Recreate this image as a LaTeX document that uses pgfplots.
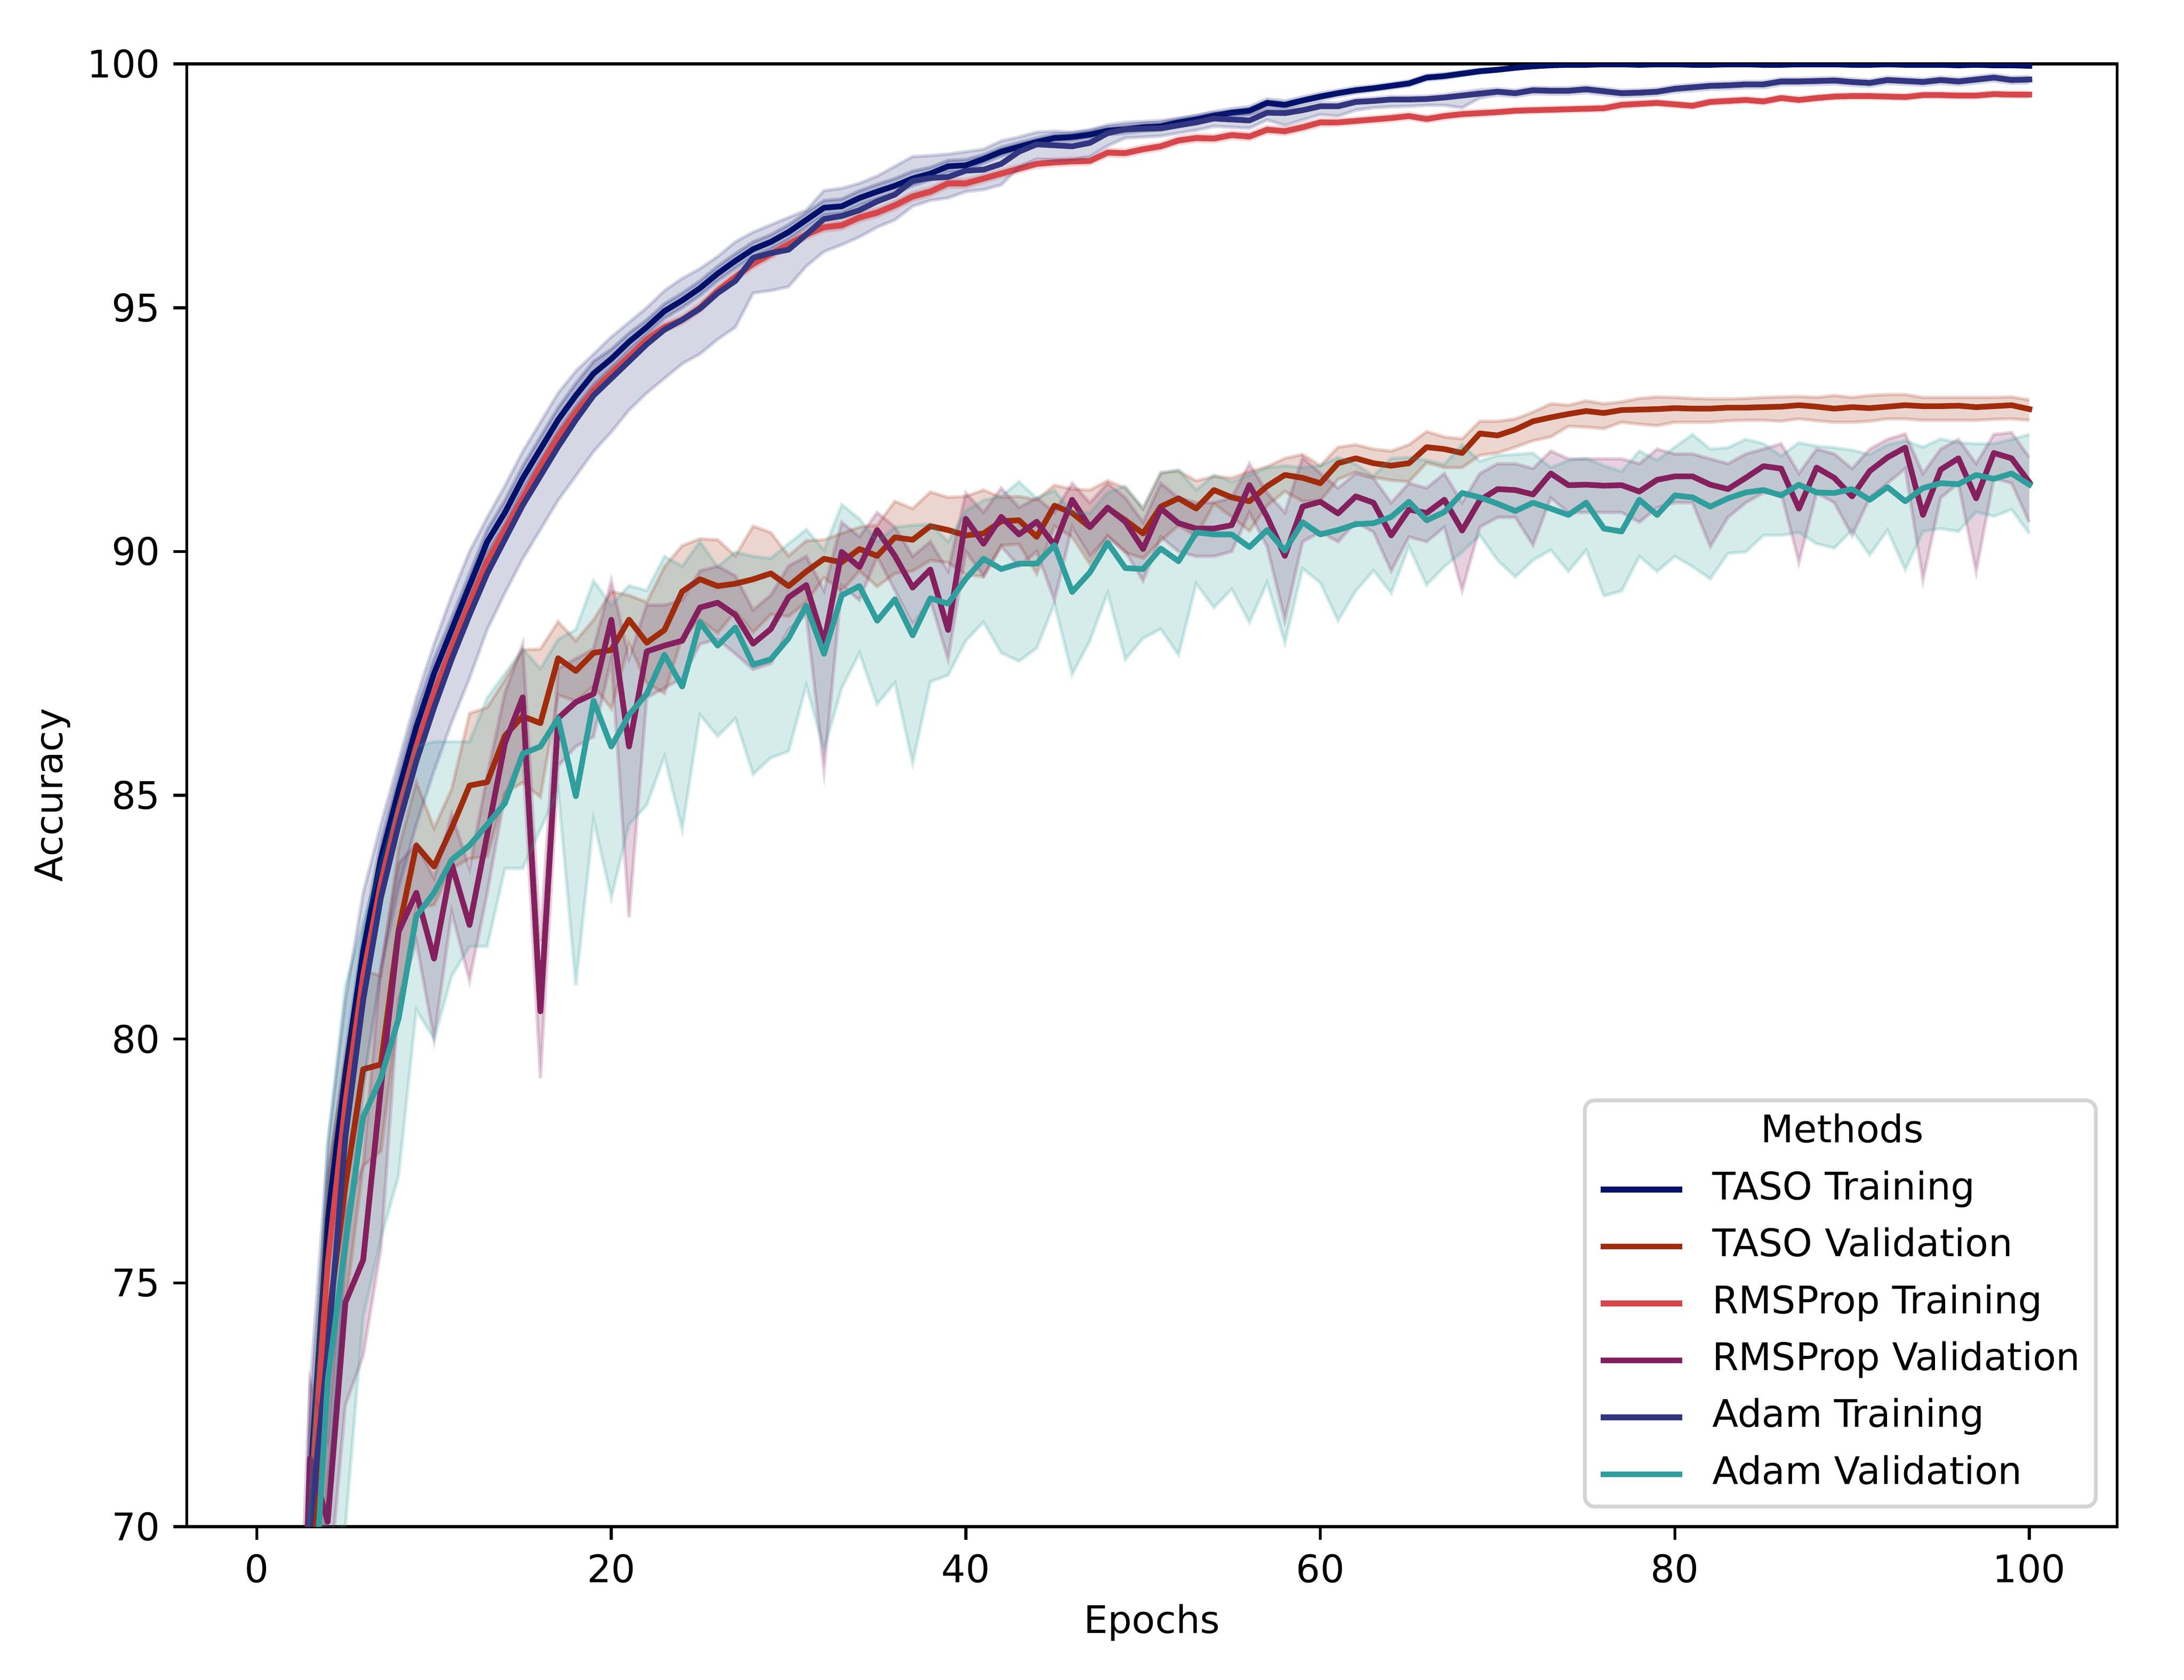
\documentclass[border=0pt]{standalone}
\usepackage{fontspec}
\setmainfont{DejaVu Sans}
\usepackage{pgfplots}
\pgfplotsset{compat=1.18}
\usepackage{pgfplotstable}
\usepgfplotslibrary{fillbetween}

\definecolor{cTT}{RGB}{0,17,106}
\definecolor{cTV}{RGB}{160,44,12}
\definecolor{cRT}{RGB}{214,70,74}
\definecolor{cRV}{RGB}{132,32,94}
\definecolor{cAT}{RGB}{50,53,127}
\definecolor{cAV}{RGB}{47,158,156}

% TASO Training
\pgfplotstableread{
e m lo hi
1 45.0 43.5 46.5
2 58.0 56.5 59.5
3 70.8 69.6 72.0
4 76.3 75.5 77.1
5 79.3 78.9 79.7
6 81.8 81.45 82.15
7 83.7 83.35 84.05
8 85.1 84.75 85.45
9 86.4 86.05 86.75
10 87.5 87.2 87.8
11 88.4 88.15 88.65
12 89.3 89.05 89.55
13 90.2 89.95 90.45
14 90.8 90.55 91.05
15 91.5 91.25 91.75
16 92.1 91.85 92.35
17 92.7 92.45 92.95
18 93.2 92.95 93.45
19 93.65 93.4 93.9
20 93.95 93.75 94.15
21 94.3 94.12 94.48
22 94.6 94.45 94.75
23 94.93 94.78 95.08
24 95.15 95.0 95.3
25 95.4 95.25 95.55
26 95.7 95.55 95.85
27 95.96 95.81 96.11
28 96.2 96.05 96.35
29 96.35 96.2 96.5
30 96.55 96.4 96.7
31 96.8 96.65 96.95
32 97.05 96.9 97.2
33 97.08 96.93 97.23
34 97.25 97.1 97.4
35 97.38 97.23 97.53
36 97.5 97.35 97.65
37 97.65 97.5 97.8
38 97.75 97.62 97.88
39 97.9 97.78 98.02
40 97.92 97.8 98.04
41 98.05 97.96 98.14
42 98.2 98.11 98.29
43 98.3 98.21 98.39
44 98.4 98.32 98.48
45 98.48 98.4 98.56
46 98.5 98.42 98.58
47 98.55 98.47 98.63
48 98.63 98.55 98.71
49 98.66 98.58 98.74
50 98.7 98.62 98.78
51 98.72 98.64 98.8
52 98.8 98.72 98.88
53 98.86 98.78 98.94
54 98.94 98.86 99.02
55 99.0 98.92 99.08
56 99.04 98.96 99.12
57 99.2 99.12 99.28
58 99.16 99.08 99.24
59 99.25 99.18 99.32
60 99.33 99.26 99.4
61 99.4 99.34 99.46
62 99.46 99.4 99.52
63 99.5 99.45 99.55
64 99.55 99.5 99.6
65 99.6 99.55 99.65
66 99.72 99.67 99.77
67 99.75 99.7 99.8
68 99.8 99.76 99.84
69 99.85 99.81 99.89
70 99.88 99.85 99.91
71 99.92 99.89 99.95
72 99.95 99.93 99.97
73 99.97 99.95 99.99
74 99.98 99.96 100.0
75 99.98 99.96 100.0
76 99.99 99.97 100.01
77 99.99 99.97 100.01
78 99.98 99.96 100.0
79 99.99 99.97 100.01
80 99.99 99.97 100.01
81 99.98 99.96 100.0
82 99.98 99.96 100.0
83 99.99 99.97 100.01
84 99.99 99.97 100.01
85 99.98 99.96 100.0
86 99.98 99.96 100.0
87 99.99 99.97 100.01
88 99.99 99.97 100.01
89 99.99 99.97 100.01
90 99.98 99.96 100.0
91 99.98 99.96 100.0
92 99.99 99.97 100.01
93 99.98 99.96 100.0
94 99.98 99.96 100.0
95 99.98 99.96 100.0
96 99.97 99.95 99.99
97 99.98 99.96 100.0
98 99.97 99.95 99.99
99 99.97 99.95 99.99
100 99.96 99.94 99.98
}\TT

% TASO Validation
\pgfplotstableread{
e m lo hi
1 50.0 47.0 53.0
2 60.0 57.0 63.0
3 68.0 65.0 71.0
4 74.1 70.9 77.3
5 77.0 74.5 79.5
6 79.38 77.4 81.4
7 79.48 77.7 81.3
8 82.23 80.6 83.9
9 83.97 82.7 85.27
10 83.54 82.75 84.33
11 84.33 83.5 85.13
12 85.2 83.7 86.68
13 85.27 83.75 86.8
14 86.22 85.05 87.37
15 86.62 85.26 87.98
16 86.48 84.96 88.0
17 87.81 87.06 88.56
18 87.55 86.93 88.17
19 87.92 87.24 88.6
20 87.98 86.78 89.18
21 88.6 88.1 89.1
22 88.13 87.3 88.96
23 88.39 87.09 89.69
24 89.18 88.24 90.12
25 89.43 88.6 90.26
26 89.29 88.33 90.24
27 89.34 88.77 89.91
28 89.43 88.34 90.52
29 89.55 88.71 90.39
30 89.29 88.67 89.91
31 89.59 88.96 90.22
32 89.85 89.46 90.24
33 89.78 89.19 90.37
34 90.05 89.6 90.5
35 89.91 89.28 90.54
36 90.29 89.55 91.03
37 90.24 89.6 90.88
38 90.52 89.82 91.22
39 90.44 89.77 91.11
40 90.33 89.53 91.13
41 90.37 89.48 91.26
42 90.62 90.13 91.11
43 90.64 90.15 91.13
44 90.3 89.54 91.06
45 90.94 90.52 91.36
46 90.79 90.3 91.28
47 90.5 89.74 91.26
48 90.89 90.33 91.45
49 90.64 89.98 91.3
50 90.37 89.86 90.88
51 90.92 90.22 91.62
52 91.09 90.53 91.65
53 90.88 90.31 91.45
54 91.26 90.98 91.54
55 91.11 90.71 91.51
56 91.03 90.42 91.64
57 91.34 90.94 91.74
58 91.57 91.23 91.91
59 91.51 91.03 91.99
60 91.4 91.04 91.76
61 91.81 91.48 92.14
62 91.91 91.63 92.19
63 91.81 91.52 92.1
64 91.76 91.46 92.06
65 91.81 91.43 92.19
66 92.14 91.82 92.46
67 92.1 91.72 92.35
68 92.02 91.72 92.31
69 92.42 91.97 92.67
70 92.38 92.02 92.67
71 92.5 92.14 92.72
72 92.67 92.27 92.86
73 92.75 92.35 93.03
74 92.82 92.57 93.0
75 92.88 92.55 93.09
76 92.84 92.52 93.03
77 92.9 92.65 93.07
78 92.91 92.61 93.14
79 92.92 92.58 93.17
80 92.94 92.65 93.16
81 92.93 92.65 93.14
82 92.93 92.65 93.13
83 92.95 92.68 93.13
84 92.95 92.69 93.14
85 92.96 92.69 93.16
86 92.97 92.67 93.17
87 93.0 92.72 93.18
88 92.97 92.68 93.16
89 92.93 92.65 93.2
90 92.96 92.65 93.16
91 92.94 92.67 93.2
92 92.97 92.72 93.22
93 93.0 92.72 93.22
94 92.98 92.69 93.16
95 92.98 92.69 93.16
96 92.99 92.69 93.16
97 92.96 92.69 93.16
98 92.98 92.71 93.16
99 93.0 92.72 93.17
100 92.92 92.69 93.11
}\TV

% RMSProp Training
\pgfplotstableread{
e m lo hi
1 43.0 41.8 44.2
2 56.0 55.0 57.0
3 70.3 69.7 70.9
4 75.4 75.1 75.7
5 78.7 78.5 78.9
6 81.3 81.15 81.45
7 83.2 83.05 83.35
8 84.7 84.56 84.84
9 86.0 85.87 86.13
10 87.1 86.98 87.22
11 88.05 87.93 88.17
12 88.95 88.83 89.07
13 89.8 89.68 89.92
14 90.45 90.33 90.57
15 91.1 90.98 91.22
16 91.75 91.63 91.87
17 92.35 92.23 92.47
18 92.85 92.73 92.97
19 93.3 93.18 93.42
20 93.65 93.53 93.77
21 94.0 93.92 94.08
22 94.35 94.27 94.43
23 94.6 94.52 94.68
24 94.75 94.67 94.83
25 95.0 94.92 95.08
26 95.35 95.27 95.43
27 95.63 95.55 95.71
28 95.9 95.82 95.98
29 96.1 96.02 96.18
30 96.3 96.22 96.38
31 96.5 96.42 96.58
32 96.65 96.57 96.73
33 96.69 96.61 96.77
34 96.85 96.77 96.93
35 96.95 96.87 97.03
36 97.1 97.02 97.18
37 97.28 97.2 97.36
38 97.38 97.3 97.46
39 97.55 97.47 97.63
40 97.55 97.47 97.63
41 97.65 97.58 97.72
42 97.75 97.68 97.82
43 97.85 97.78 97.92
44 97.95 97.88 98.02
45 97.98 97.91 98.05
46 98.0 97.93 98.07
47 98.01 97.94 98.08
48 98.18 98.11 98.25
49 98.17 98.1 98.24
50 98.25 98.18 98.32
51 98.31 98.24 98.38
52 98.43 98.36 98.5
53 98.48 98.41 98.55
54 98.47 98.4 98.54
55 98.54 98.47 98.61
56 98.51 98.44 98.58
57 98.65 98.58 98.72
58 98.62 98.55 98.69
59 98.7 98.63 98.77
60 98.8 98.73 98.87
61 98.8 98.74 98.86
62 98.83 98.77 98.89
63 98.86 98.8 98.92
64 98.89 98.83 98.95
65 98.93 98.87 98.99
66 98.87 98.81 98.93
67 98.93 98.87 98.99
68 98.97 98.91 99.03
69 98.99 98.93 99.05
70 99.01 98.96 99.06
71 99.04 98.99 99.09
72 99.05 99.0 99.1
73 99.06 99.01 99.11
74 99.07 99.02 99.12
75 99.08 99.03 99.13
76 99.09 99.04 99.14
77 99.16 99.1 99.22
78 99.18 99.13 99.23
79 99.2 99.15 99.25
80 99.17 99.12 99.22
81 99.14 99.09 99.19
82 99.22 99.17 99.27
83 99.24 99.19 99.29
84 99.26 99.21 99.31
85 99.23 99.18 99.28
86 99.3 99.25 99.35
87 99.26 99.21 99.31
88 99.3 99.25 99.35
89 99.33 99.28 99.38
90 99.34 99.29 99.39
91 99.34 99.29 99.39
92 99.33 99.28 99.38
93 99.32 99.27 99.37
94 99.36 99.31 99.41
95 99.36 99.31 99.41
96 99.35 99.3 99.4
97 99.35 99.3 99.4
98 99.38 99.33 99.43
99 99.37 99.32 99.42
100 99.37 99.32 99.42
}\RT

% RMSProp Validation
\pgfplotstableread{
e m lo hi
1 48.0 44.0 52.0
2 60.0 56.0 64.0
3 71.4 69.5 73.0
4 70.1 68.5 71.8
5 74.6 72.5 76.5
6 75.47 73.5 77.4
7 79.0 75.7 81.5
8 82.2 80.8 83.6
9 83.0 82.0 84.0
10 81.65 80.0 83.3
11 83.58 82.6 84.6
12 82.34 81.2 83.5
13 84.19 83.0 85.4
14 86.07 85.0 87.1
15 87.01 85.9 88.1
16 80.57 79.2 82.0
17 86.58 85.6 87.6
18 86.91 86.0 87.8
19 87.08 86.2 88.0
20 88.6 87.8 89.4
21 86.0 82.5 87.8
22 87.95 87.0 88.9
23 88.07 87.2 88.9
24 88.17 87.4 89.0
25 88.85 88.1 89.6
26 88.95 88.2 89.7
27 88.7 87.9 89.5
28 88.11 87.58 88.8
29 88.41 87.7 89.1
30 89.06 88.4 89.7
31 89.31 88.7 89.9
32 88.13 85.51 89.2
33 89.99 89.3 90.6
34 89.68 89.0 90.3
35 90.44 89.9 90.8
36 89.91 89.2 90.5
37 89.26 88.5 89.9
38 89.63 89.0 90.2
39 88.39 87.79 89.6
40 90.67 90.0 91.2
41 90.16 89.5 90.8
42 90.71 90.1 91.3
43 90.35 89.7 90.9
44 90.61 90.0 91.1
45 90.13 89.0 90.8
46 91.06 90.5 91.4
47 90.5 89.9 91.0
48 90.9 90.3 91.4
49 90.61 90.0 91.1
50 90.05 89.4 90.6
51 90.88 90.3 91.4
52 90.58 90.0 91.1
53 90.47 89.9 91.0
54 90.47 89.9 91.0
55 90.54 90.0 91.1
56 91.36 90.8 91.8
57 90.71 90.1 91.2
58 89.91 88.6 90.8
59 90.92 90.2 91.93
60 91.02 90.4 91.6
61 90.78 90.2 91.3
62 91.13 90.6 91.6
63 91.0 90.4 91.5
64 90.33 89.6 91.0
65 90.86 90.3 91.4
66 90.79 90.2 91.3
67 91.06 90.5 91.6
68 90.43 89.2 91.0
69 91.05 90.5 91.6
70 91.28 90.7 91.8
71 91.26 90.7 91.8
72 91.17 90.13 91.7
73 91.6 91.1 92.06
74 91.36 90.8 91.9
75 91.37 90.8 91.9
76 91.35 90.8 91.9
77 91.36 90.8 91.9
78 91.23 90.6 91.8
79 91.47 90.9 92.1
80 91.54 91.0 92.0
81 91.54 91.0 92.0
82 91.37 90.1 91.9
83 91.28 90.7 91.8
84 91.51 91.0 92.0
85 91.75 91.2 92.1
86 91.7 91.2 92.21
87 90.88 89.78 91.6
88 91.72 91.2 92.1
89 91.51 91.0 92.0
90 91.13 90.33 91.7
91 91.65 91.1 92.1
92 91.93 91.4 92.3
93 92.13 91.7 92.41
94 90.75 89.42 91.6
95 91.68 91.1 92.1
96 91.91 91.4 92.3
97 91.09 89.59 91.8
98 92.02 91.5 92.4
99 91.91 91.4 92.44
100 91.42 90.6 91.93
}\RV

% Adam Training
\pgfplotstableread{
e m lo hi
1 42.0 38.0 46.0
2 55.0 51.0 59.0
3 70.0 66.5 72.8
4 73.6 70.2 77.8
5 78.0 75.5 80.8
6 80.8 79.0 83.0
7 82.9 81.4 84.4
8 84.4 83.1 85.7
9 85.7 84.4 87.0
10 86.8 85.5 88.1
11 87.8 86.5 89.1
12 88.7 87.4 90.0
13 89.55 88.4 90.7
14 90.25 89.15 91.35
15 90.95 89.85 92.05
16 91.55 90.45 92.65
17 92.15 91.05 93.25
18 92.7 91.55 93.7
19 93.2 92.05 94.05
20 93.55 92.45 94.4
21 93.9 92.9 94.7
22 94.25 93.25 95.0
23 94.55 93.55 95.35
24 94.75 93.85 95.6
25 94.98 94.05 95.8
26 95.3 94.35 96.05
27 95.55 94.6 96.35
28 96.02 95.3 96.55
29 96.12 95.35 96.7
30 96.19 95.43 96.85
31 96.5 95.85 97.0
32 96.82 96.15 97.4
33 96.88 96.29 97.45
34 97.0 96.45 97.55
35 97.18 96.65 97.7
36 97.32 96.8 97.9
37 97.6 97.08 98.1
38 97.66 97.2 98.12
39 97.68 97.25 98.15
40 97.81 97.38 98.2
41 97.83 97.42 98.25
42 97.95 97.52 98.42
43 98.2 97.88 98.5
44 98.35 98.05 98.6
45 98.33 98.03 98.62
46 98.31 98.03 98.6
47 98.38 98.1 98.65
48 98.58 98.32 98.75
49 98.66 98.48 98.8
50 98.67 98.5 98.82
51 98.68 98.52 98.84
52 98.74 98.58 98.88
53 98.8 98.64 98.94
54 98.88 98.72 99.0
55 98.86 98.7 98.98
56 98.84 98.68 98.97
57 99.0 98.85 99.08
58 98.99 98.74 99.06
59 99.05 98.85 99.12
60 99.13 98.96 99.2
61 99.13 98.93 99.2
62 99.22 99.05 99.28
63 99.24 99.1 99.3
64 99.27 99.12 99.33
65 99.27 99.13 99.33
66 99.28 99.15 99.34
67 99.31 99.15 99.37
68 99.35 99.1 99.42
69 99.39 99.3 99.47
70 99.43 99.36 99.49
71 99.4 99.33 99.46
72 99.46 99.39 99.52
73 99.45 99.38 99.51
74 99.45 99.38 99.51
75 99.48 99.41 99.54
76 99.44 99.37 99.5
77 99.4 99.33 99.46
78 99.41 99.34 99.47
79 99.43 99.36 99.49
80 99.49 99.42 99.55
81 99.52 99.45 99.58
82 99.55 99.48 99.61
83 99.56 99.49 99.62
84 99.58 99.51 99.64
85 99.58 99.51 99.64
86 99.64 99.57 99.7
87 99.64 99.57 99.7
88 99.65 99.58 99.71
89 99.66 99.59 99.72
90 99.63 99.56 99.69
91 99.61 99.54 99.67
92 99.67 99.6 99.73
93 99.65 99.58 99.71
94 99.63 99.56 99.69
95 99.67 99.6 99.73
96 99.64 99.57 99.7
97 99.68 99.61 99.74
98 99.72 99.65 99.78
99 99.67 99.6 99.73
100 99.68 99.61 99.74
}\AT

% Adam Validation
\pgfplotstableread{
e m lo hi
1 45.0 40.0 50.0
2 58.0 53.0 63.0
3 67.0 63.5 70.5
4 73.0 69.9 77.9
5 75.8 70.0 81.1
6 78.4 74.3 82.4
7 79.2 75.9 83.6
8 80.42 77.2 84.8
9 82.52 80.6 86.0
10 83.0 80.0 86.1
11 83.68 81.3 86.1
12 83.97 81.9 86.1
13 84.4 81.9 87.0
14 84.84 83.5 87.5
15 85.85 83.5 88.0
16 86.0 84.3 87.6
17 86.58 85.1 88.2
18 84.98 81.1 88.4
19 86.94 84.5 89.4
20 86.0 82.9 88.9
21 86.65 84.4 89.3
22 87.08 84.8 89.2
23 87.88 85.8 89.9
24 87.23 84.3 89.7
25 88.55 86.65 90.2
26 88.07 86.21 89.69
27 88.44 86.57 89.99
28 87.68 85.43 89.9
29 87.79 85.77 89.86
30 88.22 85.9 90.16
31 88.89 87.25 90.45
32 87.9 85.94 90.03
33 89.1 87.2 90.96
34 89.29 87.92 90.67
35 88.58 86.87 90.2
36 89.02 87.31 90.5
37 88.28 85.66 90.54
38 89.04 87.33 90.56
39 88.93 87.46 90.2
40 89.44 88.17 90.83
41 89.85 88.55 91.05
42 89.64 87.92 91.13
43 89.75 87.75 91.43
44 89.75 88.02 91.09
45 90.13 88.93 91.26
46 89.17 87.48 90.79
47 89.57 88.17 90.79
48 90.18 89.15 91.21
49 89.66 87.79 91.34
50 89.64 88.22 90.88
51 90.06 88.41 91.6
52 89.8 87.88 91.68
53 90.39 89.34 91.26
54 90.35 88.85 91.57
55 90.35 89.23 91.43
56 90.09 88.55 91.57
57 90.44 89.36 91.72
58 90.02 88.13 91.76
59 90.6 89.65 91.72
60 90.35 89.36 91.76
61 90.44 88.58 91.93
62 90.56 89.19 91.79
63 90.58 89.61 91.55
64 90.71 89.15 91.91
65 91.02 90.1 91.93
66 90.64 89.31 91.87
67 90.81 89.69 91.79
68 91.2 89.99 92.19
69 91.11 90.33 91.85
70 90.98 89.82 91.97
71 90.83 89.48 91.99
72 91.0 89.82 92.02
73 90.88 90.03 91.72
74 90.75 89.59 91.87
75 91.0 90.03 91.91
76 90.47 89.09 91.76
77 90.41 89.19 91.64
78 91.06 89.9 92.06
79 90.75 89.59 91.87
80 91.15 89.9 92.14
81 91.11 89.69 92.4
82 90.92 89.44 92.1
83 91.09 89.96 92.13
84 91.21 89.99 92.3
85 91.26 90.33 92.21
86 91.15 90.33 91.96
87 91.37 90.39 92.23
88 91.21 90.16 92.16
89 91.2 90.07 92.13
90 91.28 90.44 92.08
91 91.06 89.93 91.99
92 91.32 90.44 92.19
93 91.03 89.63 92.27
94 91.3 90.41 92.14
95 91.4 90.47 92.31
96 91.38 90.41 92.23
97 91.57 90.81 92.21
98 91.49 90.72 92.21
99 91.6 90.86 92.3
100 91.37 90.37 92.4
}\AV

\pgfplotsset{
  bandedge/.style={draw=#1, draw opacity=0.2, line width=0.9pt, forget plot},
  bandfill/.style={fill=#1, fill opacity=0.2, draw=none, forget plot},
  mean/.style={draw=#1, line width=1.5pt, line join=round, line cap=rect},
}

\begin{document}
\begin{tikzpicture}
\begin{axis}[
  scale only axis, width=507.4pt, height=384.5pt,
  xmin=-3.95, xmax=104.95, ymin=70, ymax=100,
  xtick={0,20,40,60,80,100}, ytick={70,75,80,85,90,95,100},
  minor tick num=0,
  tick align=outside, xtick pos=left, ytick pos=left,
  major tick length=3.5pt,
  every tick/.style={black, line width=0.8pt},
  axis line style={line width=0.8pt, black},
  /pgf/number format/assume math mode=true,
  tick label style={font=\fontsize{10}{12}\selectfont},
  xticklabel style={anchor=base, inner sep=0pt, yshift=-11.2pt},
  yticklabel style={anchor=east, inner sep=0pt, xshift=-3.3pt},
  xlabel={Epochs}, ylabel={Accuracy},
  every axis x label/.style={at={([yshift=-28.0pt]axis description cs:0.5,0)}, anchor=base, inner sep=0pt, font=\fontsize{10}{12}\selectfont},
  every axis y label/.style={at={([xshift=-32.7pt]axis description cs:0,0.5)}, rotate=90, anchor=base, inner sep=0pt, font=\fontsize{10}{12}\selectfont},
  legend cell align=left,
  legend image code/.code={\draw[#1, line cap=rect] (0pt,0pt) -- (20pt,0pt);},
  legend style={at={(axis description cs:1,0)}, anchor=south east, xshift=-5.1pt, yshift=4.8pt,
    draw=black!17, line width=1pt, rounded corners=2.5pt, fill=white, fill opacity=0.8, text opacity=1, draw opacity=1,
    font=\fontsize{10}{12}\selectfont,
    inner xsep=4.1pt, inner ysep=3.45pt,
    column sep=7.9pt, row sep=4.97pt,
    nodes={inner sep=0pt, text height=7.6pt, text depth=2.4pt}},
]
\addlegendimage{empty legend}
\addlegendentry{\hspace*{12.8pt}Methods}

% TASO Training
\addplot[mean=cTT] table[x=e,y=m] {\TT};
\addlegendentry{TASO Training}
\addplot[bandedge=cTT, name path=TTu] table[x=e,y=hi] {\TT};
\addplot[bandedge=cTT, name path=TTl] table[x=e,y=lo] {\TT};
\addplot[bandfill=cTT] fill between[of=TTu and TTl];

% TASO Validation
\addplot[mean=cTV] table[x=e,y=m] {\TV};
\addlegendentry{TASO Validation}
\addplot[bandedge=cTV, name path=TVu] table[x=e,y=hi] {\TV};
\addplot[bandedge=cTV, name path=TVl] table[x=e,y=lo] {\TV};
\addplot[bandfill=cTV] fill between[of=TVu and TVl];

% RMSProp Training
\addplot[mean=cRT] table[x=e,y=m] {\RT};
\addlegendentry{RMSProp Training}
\addplot[bandedge=cRT, name path=RTu] table[x=e,y=hi] {\RT};
\addplot[bandedge=cRT, name path=RTl] table[x=e,y=lo] {\RT};
\addplot[bandfill=cRT] fill between[of=RTu and RTl];

% RMSProp Validation
\addplot[mean=cRV] table[x=e,y=m] {\RV};
\addlegendentry{RMSProp Validation}
\addplot[bandedge=cRV, name path=RVu] table[x=e,y=hi] {\RV};
\addplot[bandedge=cRV, name path=RVl] table[x=e,y=lo] {\RV};
\addplot[bandfill=cRV] fill between[of=RVu and RVl];

% Adam Training
\addplot[mean=cAT] table[x=e,y=m] {\AT};
\addlegendentry{Adam Training}
\addplot[bandedge=cAT, name path=ATu] table[x=e,y=hi] {\AT};
\addplot[bandedge=cAT, name path=ATl] table[x=e,y=lo] {\AT};
\addplot[bandfill=cAT] fill between[of=ATu and ATl];

% Adam Validation
\addplot[mean=cAV] table[x=e,y=m] {\AV};
\addlegendentry{Adam Validation}
\addplot[bandedge=cAV, name path=AVu] table[x=e,y=hi] {\AV};
\addplot[bandedge=cAV, name path=AVl] table[x=e,y=lo] {\AV};
\addplot[bandfill=cAV] fill between[of=AVu and AVl];

\coordinate (axSW) at (rel axis cs:0,0);
\end{axis}
\pgfresetboundingbox
\path[use as bounding box] ([shift={(-49.1pt,-40.3pt)}]axSW) rectangle ++(574.1pt,441.6pt);
\end{tikzpicture}
\end{document}
